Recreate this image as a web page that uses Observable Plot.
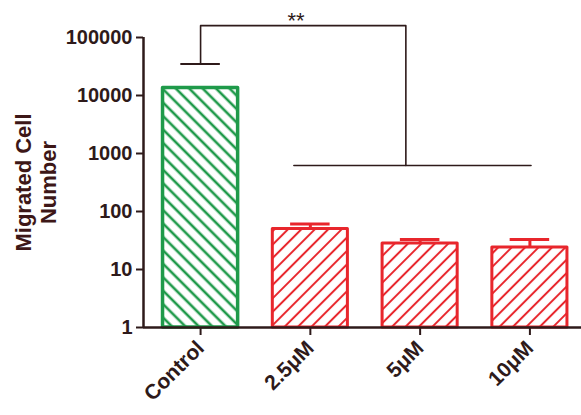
<!DOCTYPE html>
<html>
<head>
<meta charset="utf-8">
<script src="https://cdn.jsdelivr.net/npm/d3@7"></script>
<script src="https://cdn.jsdelivr.net/npm/@observablehq/plot@0.6"></script>
<style>
  html, body { margin: 0; padding: 0; background: #fff; }
  #chart svg { display: block; }
</style>
</head>
<body>
<svg width="0" height="0" style="position:absolute">
  <defs>
    <pattern id="hatchG" patternUnits="userSpaceOnUse" width="9.5" height="9.5" patternTransform="rotate(-45)">
      <rect width="9.5" height="9.5" fill="#ffffff"></rect>
      <line x1="4.75" y1="0" x2="4.75" y2="9.5" stroke="#1f9a4a" stroke-width="2.6"></line>
    </pattern>
    <pattern id="hatchR" patternUnits="userSpaceOnUse" width="9.5" height="9.5" patternTransform="rotate(45)">
      <rect width="9.5" height="9.5" fill="#ffffff"></rect>
      <line x1="4.75" y1="0" x2="4.75" y2="9.5" stroke="#e8262c" stroke-width="2"></line>
    </pattern>
  </defs>
</svg>
<div id="chart"></div>
<script>
// ---- data ----
const groups = ["Control", "2.5\u03bcM", "5\u03bcM", "10\u03bcM"];
const means  = [13500, 50, 28, 24];
const uppers = [35000, 61, 33, 33];
const yTicks = [1, 10, 100, 1000, 10000, 100000];
const yTitle = "Migrated Cell\nNumber";
const sigLabel = "**";
// significance bracket (data units: x = group index, y = count)
const bracketTopY = 160000;
const bracketLowY = 620;
const bracketJoinX = 1.87;
const bracketLowX = [0.85, 3.01];
const bracketStarX = 0.87;

// ---- style ----
const green = "#1f9a4a";
const red = "#e8262c";
const ink = "#2e1a1a";
const titleInk = "#3d1717";

const rows = groups.map((g, i) => ({i, group: g, mean: means[i], upper: uppers[i]}));
const ctrl = rows.filter(d => d.i === 0);
const treated = rows.filter(d => d.i > 0);
const half = 0.342, cap = 0.18;

const bracketPath = [
  {x: 0, y: uppers[0], z: "a"},
  {x: 0, y: bracketTopY, z: "a"},
  {x: bracketJoinX, y: bracketTopY, z: "a"},
  {x: bracketJoinX, y: bracketLowY, z: "a"},
  {x: bracketLowX[0], y: bracketLowY, z: "b"},
  {x: bracketLowX[1], y: bracketLowY, z: "b"}
];

const chart = Plot.plot({
  width: 581,
  height: 415,
  marginTop: 37,
  marginBottom: 88,
  marginLeft: 143,
  marginRight: 0,
  style: {fontFamily: "'Liberation Sans', Arial, Helvetica, sans-serif", background: "#fff"},
  x: {type: "linear", domain: [-0.52, 3.47]},
  y: {type: "log", domain: [1, 100000]},
  marks: [
    Plot.rectY(ctrl, {x1: d => d.i - half, x2: d => d.i + half, y1: 1, y2: "mean",
      fill: "url(#hatchG)", stroke: green, strokeWidth: 3.5, strokeLinejoin: "round"}),
    Plot.rectY(treated, {x1: d => d.i - half, x2: d => d.i + half, y1: 1, y2: "mean",
      fill: "url(#hatchR)", stroke: red, strokeWidth: 3, strokeLinejoin: "round"}),
    Plot.ruleX(treated, {x: "i", y1: "mean", y2: "upper", stroke: red, strokeWidth: 3}),
    Plot.ruleY(treated, {y: "upper", x1: d => d.i - cap, x2: d => d.i + cap, stroke: red, strokeWidth: 3}),
    Plot.ruleY(ctrl, {y: "upper", x1: d => d.i - cap, x2: d => d.i + cap, stroke: ink, strokeWidth: 2}),
    Plot.line(bracketPath, {x: "x", y: "y", z: "z", stroke: ink, strokeWidth: 1.6, curve: "linear"}),
    Plot.text([sigLabel], {x: bracketStarX, y: bracketTopY, dy: -5, text: d => d, fontSize: 22, fill: ink}),
    Plot.ruleY([1], {stroke: ink, strokeWidth: 2.5}),
    Plot.ruleX([-0.52], {y1: 1, y2: 100000, stroke: ink, strokeWidth: 2.5}),
    Plot.axisY({ticks: yTicks, tickFormat: d => String(d), tickSize: 7, tickPadding: 4,
      fontSize: 20, fontWeight: "bold", color: ink, strokeWidth: 2, label: null}),
    Plot.axisX({ticks: [0, 1, 2, 3], tickFormat: i => groups[i], tickSize: 8, tickPadding: 9,
      tickRotate: -45, fontSize: 21, fontWeight: "bold", color: ink, strokeWidth: 2, label: null}),
    Plot.text([yTitle], {frameAnchor: "left", dx: -108, rotate: -90, text: d => d,
      textAnchor: "middle", lineHeight: 1.15, fontSize: 22, fontWeight: "bold", fill: titleInk})
  ]
});
document.getElementById("chart").appendChild(chart);
</script>
</body>
</html>
